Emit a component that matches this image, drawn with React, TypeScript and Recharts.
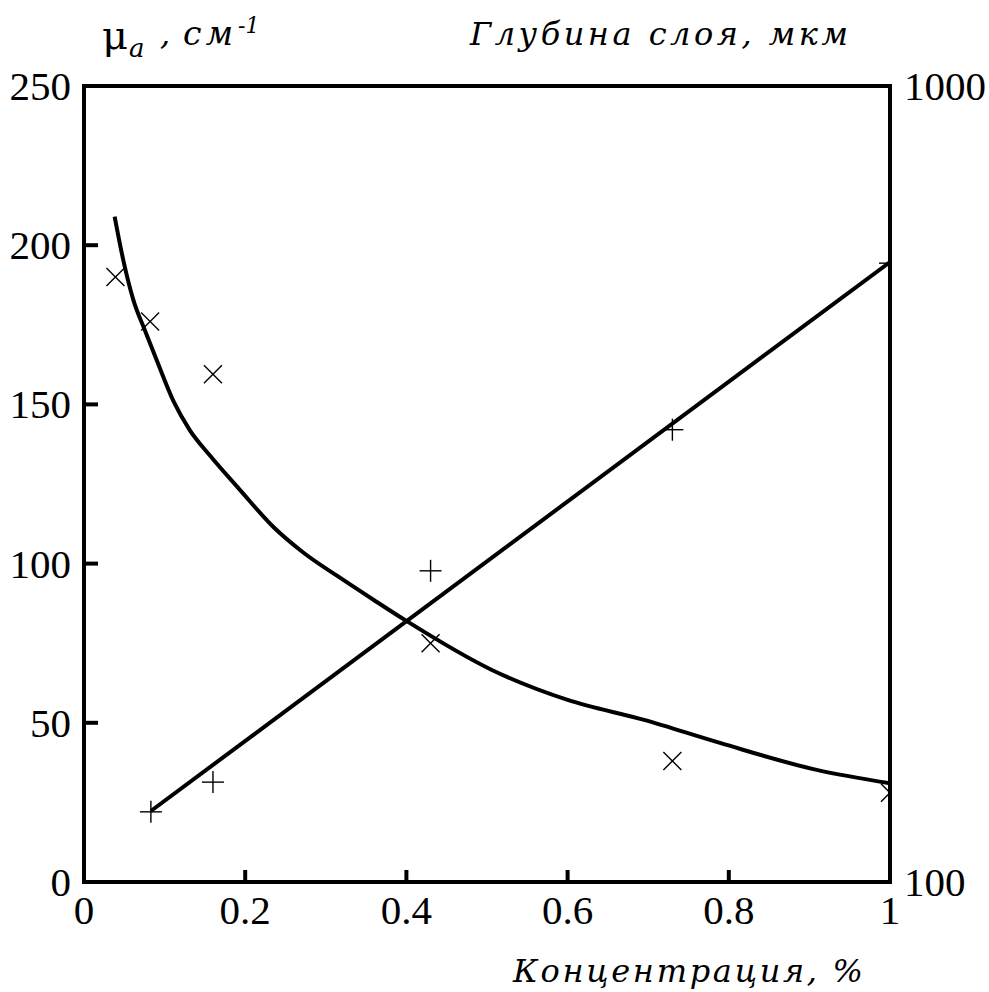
import React from 'react';
import { ComposedChart, Line, Scatter, XAxis, YAxis, ReferenceLine } from 'recharts';

// fitted curve for the absorption coefficient (left axis, cm^-1)
const fitConc = [0.038, 0.049, 0.061, 0.076, 0.09, 0.111, 0.131, 0.156, 0.194, 0.235, 0.272, 0.318, 0.36, 0.4, 0.506, 0.6, 0.695, 0.79, 0.909, 1.0];
const fitMu = [209, 195, 183, 173, 164, 151, 142, 134, 123, 111.5, 103.5, 95.5, 88.5, 82, 66.6, 57.2, 50.9, 43.6, 35.2, 31];

// measured absorption coefficient (x markers)
const muConc = [0.039, 0.082, 0.16, 0.43, 0.73, 1.0];
const muValues = [190, 176, 159.5, 75, 38, 28];

// measured layer depth, um (+ markers, right log axis)
const depthConc = [0.083, 0.16, 0.43, 0.73, 1.0];
const depthValues = [122.5, 133.5, 246, 370, 599];

// straight fit of the layer depth
const depthFitConc = [0.083, 1.0];
const depthFitValues = [122.8, 601];

const xTicks = [0, 0.2, 0.4, 0.6, 0.8, 1];
const leftTicks = [0, 50, 100, 150, 200, 250];
const rightTicks = [100, 1000];

const FONT = '"Liberation Serif", "DejaVu Serif", serif';
const CAPTION_FONT = '"DejaVu Serif", serif';

const fitData = fitConc.map((x, i) => ({ x, y: fitMu[i] }));
const muData = muConc.map((x, i) => ({ x, y: muValues[i] }));
const depthData = depthConc.map((x, i) => ({ x, y: depthValues[i] }));
const depthFitData = depthFitConc.map((x, i) => ({ x, y: depthFitValues[i] }));

const XMark = (props: any) => {
  const { cx, cy } = props;
  const r = 9;
  return (
    <g stroke="#000" strokeWidth={1.4}>
      <line x1={cx - r} y1={cy - r} x2={cx + r} y2={cy + r} />
      <line x1={cx - r} y1={cy + r} x2={cx + r} y2={cy - r} />
    </g>
  );
};

const PlusMark = (props: any) => {
  const { cx, cy } = props;
  const r = 11;
  return (
    <g stroke="#000" strokeWidth={1.4}>
      <line x1={cx - r} y1={cy} x2={cx + r} y2={cy} />
      <line x1={cx} y1={cy - r} x2={cx} y2={cy + r} />
    </g>
  );
};

const LeftTick = (props: any) => {
  const { x, y, payload } = props;
  const v = payload.value;
  return (
    <g>
      {v !== 0 && v !== 250 && <line x1={x} y1={y} x2={x + 14} y2={y} stroke="#000" strokeWidth={4} />}
      <text x={x - 13} y={y + 14} textAnchor="end" fontFamily={FONT} fontSize={41} fill="#000">
        {v}
      </text>
    </g>
  );
};

const BottomTick = (props: any) => {
  const { x, y, payload } = props;
  const v = payload.value;
  return (
    <g>
      {v !== 0 && v !== 1 && <line x1={x} y1={y} x2={x} y2={y - 12} stroke="#000" strokeWidth={4} />}
      <text x={x} y={y + 42} textAnchor="middle" fontFamily={FONT} fontSize={41} fill="#000">
        {v}
      </text>
    </g>
  );
};

const RightTick = (props: any) => {
  const { x, y, payload } = props;
  return (
    <text x={x + 14} y={y + 14} textAnchor="start" fontFamily={FONT} fontSize={41} fill="#000">
      {payload.value}
    </text>
  );
};

const frame = { stroke: '#000', strokeWidth: 4, strokeLinecap: 'square' as const };

export default function App() {
  return (
    <div style={{ position: 'absolute', left: 0, top: 0, width: 989, height: 992, background: '#fff' }}>
      <ComposedChart width={989} height={992} margin={{ top: 86, right: 4, bottom: 50, left: 4 }}>
        <XAxis
          dataKey="x"
          type="number"
          domain={[0, 1]}
          ticks={xTicks}
          allowDataOverflow
          height={60}
          axisLine={frame}
          tickLine={false}
          tickSize={0}
          tickMargin={0}
          tick={<BottomTick />}
          interval={0}
        />
        <YAxis
          yAxisId="left"
          type="number"
          domain={[0, 250]}
          ticks={leftTicks}
          allowDataOverflow
          width={80}
          axisLine={frame}
          tickLine={false}
          tickSize={0}
          tickMargin={0}
          tick={<LeftTick />}
          interval={0}
        />
        <YAxis
          yAxisId="right"
          orientation="right"
          type="number"
          scale="log"
          domain={[100, 1000]}
          ticks={rightTicks}
          allowDataOverflow
          width={95}
          axisLine={frame}
          tickLine={false}
          tickSize={0}
          tickMargin={0}
          tick={<RightTick />}
          interval={0}
        />
        <ReferenceLine yAxisId="left" y={250} stroke="#000" strokeWidth={4} strokeLinecap="square" />
        <Line
          yAxisId="left"
          data={fitData}
          dataKey="y"
          type="monotone"
          stroke="#000"
          strokeWidth={4}
          dot={false}
          isAnimationActive={false}
        />
        <Line
          yAxisId="right"
          data={depthFitData}
          dataKey="y"
          type="linear"
          stroke="#000"
          strokeWidth={4}
          dot={false}
          isAnimationActive={false}
        />
        <Scatter yAxisId="left" data={muData} dataKey="y" shape={<XMark />} isAnimationActive={false} />
        <Scatter yAxisId="right" data={depthData} dataKey="y" shape={<PlusMark />} isAnimationActive={false} />
      </ComposedChart>
      <svg
        width={989}
        height={992}
        style={{ position: 'absolute', left: 0, top: 0, pointerEvents: 'none' }}
        fontFamily={CAPTION_FONT}
        fill="#000"
      >
        <text x={102} y={49} fontSize={40}>μ</text>
        <text x={129} y={57} fontSize={26} fontStyle="italic">a</text>
        <text x={160} y={45} fontSize={32} fontStyle="italic">,</text>
        <text x={183} y={45} fontSize={33} fontStyle="italic" textLength={50} lengthAdjust="spacing">см</text>
        <text x={238} y={33} fontSize={22} fontStyle="italic">-1</text>
        <text x={470} y={45} fontSize={32} fontStyle="italic" textLength={378} lengthAdjust="spacing">
          Глубина слоя, мкм
        </text>
        <text x={513} y={982} fontSize={32} fontStyle="italic" textLength={350} lengthAdjust="spacing">
          Концентрация, %
        </text>
      </svg>
    </div>
  );
}
